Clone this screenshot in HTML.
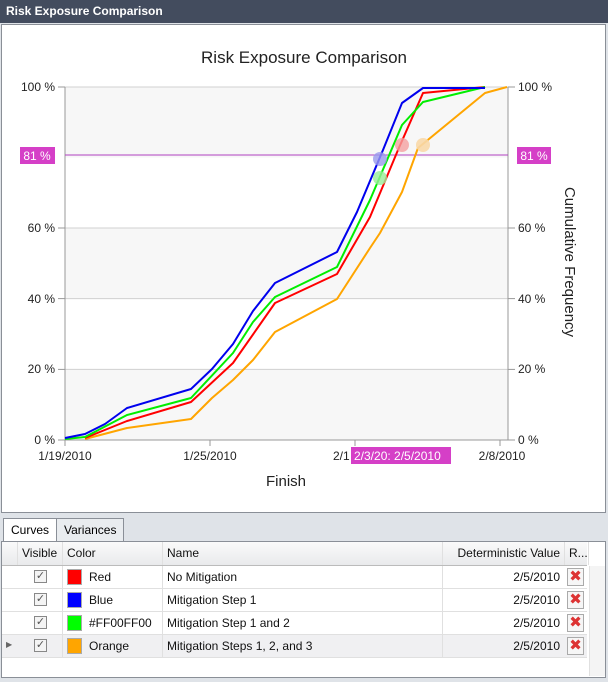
<!DOCTYPE html>
<html><head><meta charset="utf-8"><style>
*{margin:0;padding:0;box-sizing:border-box}
body{width:608px;height:682px;background:#dfe3e8;font-family:"Liberation Sans","DejaVu Sans",sans-serif;position:relative;overflow:hidden}
.tb{position:absolute;left:0;top:0;width:608px;height:23px;background:#434c5e;color:#fff;font-weight:bold;font-size:12px;line-height:23px;padding-left:6px}
.panel{position:absolute;left:1px;top:24px;width:605px;height:489px;background:#fff;border:1px solid #8a8f97}
.t{position:absolute;font-size:12px;color:#222;white-space:nowrap}
.grid{position:absolute;left:1px;top:541px;width:605px;height:137px;background:#fff;border:1px solid #8a8f97}
.tab{position:absolute;top:518px;height:24px;border:1px solid #8a8f97;border-bottom:none;font-size:12px;line-height:22px;padding:0 7px;background:#e9ecef}
.row{position:absolute;left:0;width:585px;height:23px;border-bottom:1px solid #e0e0e0}
.c{position:absolute;top:0;height:100%;border-left:1px solid #e0e0e0;font-size:12px;line-height:22px;padding-left:4px;color:#111}
.cb{position:absolute;left:32px;top:4px;width:13px;height:13px;border:1px solid #888;background:#f4f4f4;font-size:11px;line-height:11px;text-align:center;color:#555}
.sw{position:absolute;left:4px;top:3px;width:15px;height:16px;border:1px solid #aaa}
.x{position:absolute;left:565px;top:2px;width:17px;height:18px;border:1px solid #aaa;background:#f6f6f6;color:#d33;font-weight:bold;font-size:15px;line-height:16px;text-align:center}
</style></head><body>
<div class="tb">Risk Exposure Comparison</div>
<div class="panel"></div>
<svg style="position:absolute;left:0;top:0" width="608" height="512">
<rect x="65" y="87" width="443" height="70.6" fill="#f7f7f7"/>
<rect x="65" y="228" width="443" height="70.6" fill="#f7f7f7"/>
<rect x="65" y="369.4" width="443" height="70.6" fill="#f7f7f7"/>
<g stroke="#d0d0d0" stroke-width="1">
<line x1="65" y1="87" x2="508" y2="87"/><line x1="65" y1="228" x2="508" y2="228"/><line x1="65" y1="298.6" x2="508" y2="298.6"/><line x1="65" y1="369.4" x2="508" y2="369.4"/>
</g>
<g stroke="#999" stroke-width="1">
<line x1="65" y1="87" x2="65" y2="440"/><line x1="508" y1="87" x2="508" y2="440"/><line x1="65" y1="440" x2="508" y2="440"/>
<line x1="58" y1="87" x2="65" y2="87"/><line x1="58" y1="228" x2="65" y2="228"/><line x1="58" y1="298.6" x2="65" y2="298.6"/><line x1="58" y1="369.4" x2="65" y2="369.4"/><line x1="58" y1="440" x2="65" y2="440"/>
<line x1="508" y1="87" x2="515" y2="87"/><line x1="508" y1="228" x2="515" y2="228"/><line x1="508" y1="298.6" x2="515" y2="298.6"/><line x1="508" y1="369.4" x2="515" y2="369.4"/><line x1="508" y1="440" x2="515" y2="440"/>
<line x1="65" y1="440" x2="65" y2="446"/><line x1="210" y1="440" x2="210" y2="446"/><line x1="355" y1="440" x2="355" y2="446"/><line x1="500" y1="440" x2="500" y2="446"/>
</g>
<line x1="65" y1="155" x2="508" y2="155" stroke="#b040c0" stroke-width="1"/>
<g fill="none" stroke-width="2" stroke-linejoin="round">
<polyline stroke="#ffa500" points="85,439 127,428 191,419 212,398 233,380 253,360 275,332 337,299 370,248 380,233 402,192 418,148 485,93 507,87"/>
<polyline stroke="#ff0000" points="85,438 127,421 191,402 233,363 275,303 337,274 370,217 398,150 423,93 485,87"/>
<polyline stroke="#00ee00" points="65,439 85,437 127,415 191,398 233,353 253,322 275,297 337,267 370,200 402,125 423,102 485,87"/>
<polyline stroke="#0000ee" points="65,438 85,434 105,424 127,408 191,389 212,369 233,344 253,311 275,283 337,252 357,212 383,150 402,103 423,88 485,88"/>
</g>
<circle cx="380" cy="159" r="7" fill="#9999ee" opacity=".8"/>
<circle cx="380" cy="178" r="7" fill="#99ee99" opacity=".8"/>
<circle cx="402" cy="145" r="7" fill="#f4a0a0" opacity=".8"/>
<circle cx="423" cy="145" r="7" fill="#f8d8a8" opacity=".9"/>
<text x="304" y="63" font-size="17" text-anchor="middle" fill="#222" font-family="Liberation Sans">Risk Exposure Comparison</text>
<g font-size="12" fill="#222" font-family="Liberation Sans">
<text x="55" y="91" text-anchor="end">100 %</text><text x="55" y="232" text-anchor="end">60 %</text><text x="55" y="303" text-anchor="end">40 %</text><text x="55" y="373" text-anchor="end">20 %</text><text x="55" y="444" text-anchor="end">0 %</text>
<text x="518" y="91">100 %</text><text x="518" y="232">60 %</text><text x="518" y="303">40 %</text><text x="518" y="373">20 %</text><text x="518" y="444">0 %</text>
<text x="65" y="460" text-anchor="middle">1/19/2010</text><text x="210" y="460" text-anchor="middle">1/25/2010</text><text x="333" y="460">2/1</text><text x="502" y="460" text-anchor="middle">2/8/2010</text>
</g>
<rect x="20" y="147" width="35" height="17" fill="#d53fc7"/><text x="37" y="160" font-size="12" fill="#fff" text-anchor="middle">81 %</text>
<rect x="517" y="147" width="34" height="17" fill="#d53fc7"/><text x="534" y="160" font-size="12" fill="#fff" text-anchor="middle">81 %</text>
<rect x="351" y="447" width="100" height="17" fill="#d53fc7"/><text x="354" y="460" font-size="12" fill="#fff">2/3/20: 2/5/2010</text>
<text x="286" y="486" font-size="15" fill="#222" text-anchor="middle">Finish</text>
<text transform="translate(565,262) rotate(90)" font-size="15" fill="#222" text-anchor="middle">Cumulative Frequency</text>
</svg>
<div class="tab" style="left:3px;background:#fff">Curves</div>
<div class="tab" style="left:56px">Variances</div>
<div class="grid">
<div class="row" style="top:0;height:24px;background:linear-gradient(#fafafa,#e9eaec);border-bottom:1px solid #bbb">
<div class="c" style="left:15px">Visible</div><div class="c" style="left:60px">Color</div><div class="c" style="left:160px">Name</div><div class="c" style="left:440px;width:122px;text-align:right;padding-right:4px">Deterministic Value</div><div class="c" style="left:562px">R...</div><div class="c" style="left:586px"></div></div>
<div class="row" style="top:24px"><div class="cb">✓</div><div class="c" style="left:60px;width:100px"><div class="sw" style="background:#f00"></div><span style="padding-left:22px">Red</span></div><div class="c" style="left:160px">No Mitigation</div><div class="c" style="left:440px;width:122px;text-align:right;padding-right:4px">2/5/2010</div><div class="x">✖</div></div>
<div class="row" style="top:47px"><div class="cb">✓</div><div class="c" style="left:60px;width:100px"><div class="sw" style="background:#00f"></div><span style="padding-left:22px">Blue</span></div><div class="c" style="left:160px">Mitigation Step 1</div><div class="c" style="left:440px;width:122px;text-align:right;padding-right:4px">2/5/2010</div><div class="x">✖</div></div>
<div class="row" style="top:70px"><div class="cb">✓</div><div class="c" style="left:60px;width:100px"><div class="sw" style="background:#0f0"></div><span style="padding-left:22px">#FF00FF00</span></div><div class="c" style="left:160px">Mitigation Step 1 and 2</div><div class="c" style="left:440px;width:122px;text-align:right;padding-right:4px">2/5/2010</div><div class="x">✖</div></div>
<div class="row" style="top:93px;background:#f0f0f2"><span style="position:absolute;left:4px;top:5px;font-size:8px;color:#666">▶</span><div class="cb">✓</div><div class="c" style="left:60px;width:100px"><div class="sw" style="background:#ffa500"></div><span style="padding-left:22px">Orange</span></div><div class="c" style="left:160px">Mitigation Steps 1, 2, and 3</div><div class="c" style="left:440px;width:122px;text-align:right;padding-right:4px">2/5/2010</div><div class="x">✖</div></div>
<div style="position:absolute;left:587px;top:24px;width:16px;height:110px;background:#f4f4f4;border-left:1px solid #e0e0e0"></div>
</div>
</body></html>
